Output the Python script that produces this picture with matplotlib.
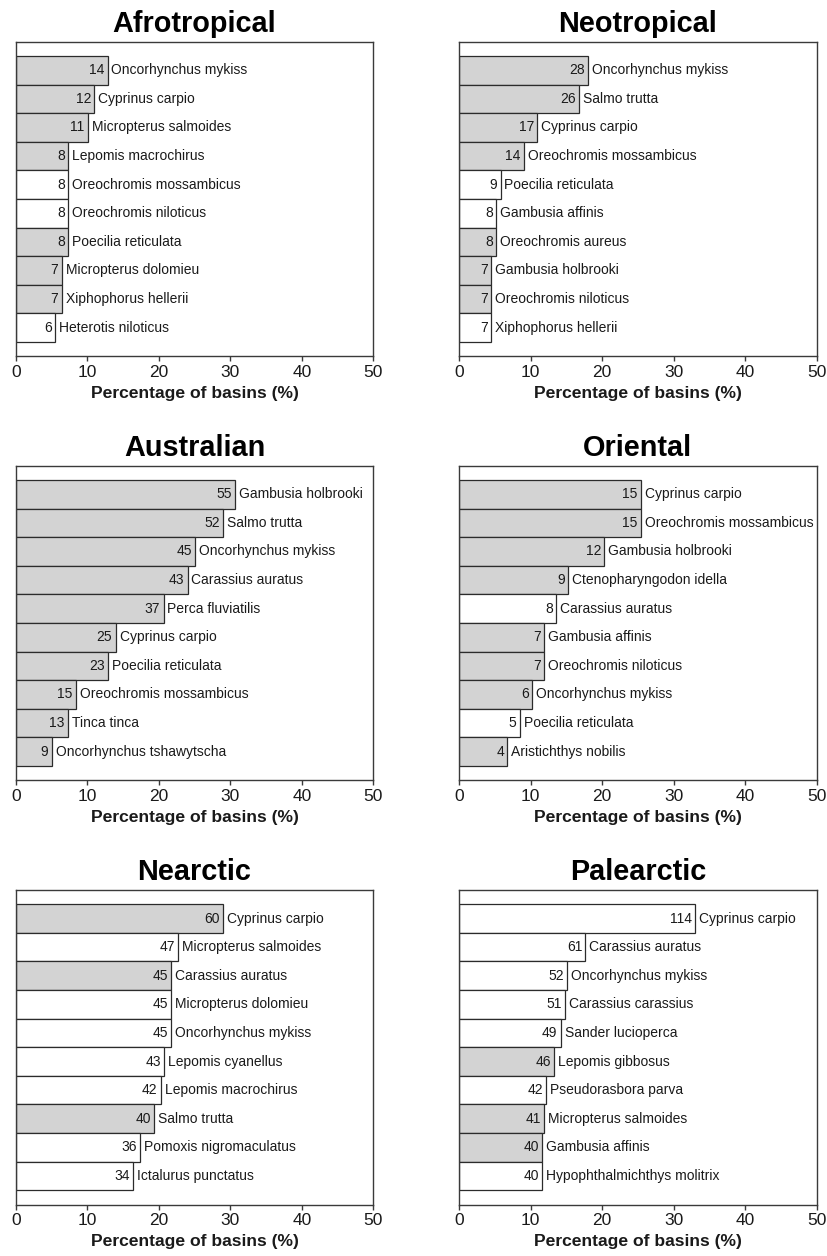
import matplotlib
matplotlib.use("Agg")
import matplotlib.pyplot as plt

plt.rcParams["font.family"] = ["Liberation Sans", "DejaVu Sans"]

# Total number of river basins sampled in each realm
realms = ["Afrotropical", "Neotropical", "Australian", "Oriental", "Nearctic", "Palearctic"]
basin_totals = [109, 155, 179, 59, 207, 345]

# Ten most widespread non-native species per realm, number of basins invaded,
# and whether the species originates from outside the realm (grey bar)
afro_species = ["Oncorhynchus mykiss", "Cyprinus carpio", "Micropterus salmoides",
                "Lepomis macrochirus", "Oreochromis mossambicus", "Oreochromis niloticus",
                "Poecilia reticulata", "Micropterus dolomieu", "Xiphophorus hellerii",
                "Heterotis niloticus"]
afro_basins = [14, 12, 11, 8, 8, 8, 8, 7, 7, 6]
afro_exotic = [1, 1, 1, 1, 0, 0, 1, 1, 1, 0]

neo_species = ["Oncorhynchus mykiss", "Salmo trutta", "Cyprinus carpio",
               "Oreochromis mossambicus", "Poecilia reticulata", "Gambusia affinis",
               "Oreochromis aureus", "Gambusia holbrooki", "Oreochromis niloticus",
               "Xiphophorus hellerii"]
neo_basins = [28, 26, 17, 14, 9, 8, 8, 7, 7, 7]
neo_exotic = [1, 1, 1, 1, 0, 0, 1, 1, 1, 0]

aus_species = ["Gambusia holbrooki", "Salmo trutta", "Oncorhynchus mykiss",
               "Carassius auratus", "Perca fluviatilis", "Cyprinus carpio",
               "Poecilia reticulata", "Oreochromis mossambicus", "Tinca tinca",
               "Oncorhynchus tshawytscha"]
aus_basins = [55, 52, 45, 43, 37, 25, 23, 15, 13, 9]
aus_exotic = [1, 1, 1, 1, 1, 1, 1, 1, 1, 1]

ori_species = ["Cyprinus carpio", "Oreochromis mossambicus", "Gambusia holbrooki",
               "Ctenopharyngodon idella", "Carassius auratus", "Gambusia affinis",
               "Oreochromis niloticus", "Oncorhynchus mykiss", "Poecilia reticulata",
               "Aristichthys nobilis"]
ori_basins = [15, 15, 12, 9, 8, 7, 7, 6, 5, 4]
ori_exotic = [1, 1, 1, 1, 0, 1, 1, 1, 0, 1]

nea_species = ["Cyprinus carpio", "Micropterus salmoides", "Carassius auratus",
               "Micropterus dolomieu", "Oncorhynchus mykiss", "Lepomis cyanellus",
               "Lepomis macrochirus", "Salmo trutta", "Pomoxis nigromaculatus",
               "Ictalurus punctatus"]
nea_basins = [60, 47, 45, 45, 45, 43, 42, 40, 36, 34]
nea_exotic = [1, 0, 1, 0, 0, 0, 0, 1, 0, 0]

pal_species = ["Cyprinus carpio", "Carassius auratus", "Oncorhynchus mykiss",
               "Carassius carassius", "Sander lucioperca", "Lepomis gibbosus",
               "Pseudorasbora parva", "Micropterus salmoides", "Gambusia affinis",
               "Hypophthalmichthys molitrix"]
pal_basins = [114, 61, 52, 51, 49, 46, 42, 41, 40, 40]
pal_exotic = [0, 0, 0, 0, 0, 1, 0, 1, 1, 0]

x_ticks = [0, 10, 20, 30, 40, 50]
x_label = "Percentage of basins (%)"

panels = [
    (afro_species, afro_basins, afro_exotic),
    (neo_species, neo_basins, neo_exotic),
    (aus_species, aus_basins, aus_exotic),
    (ori_species, ori_basins, ori_exotic),
    (nea_species, nea_basins, nea_exotic),
    (pal_species, pal_basins, pal_exotic),
]

W, H = 828, 1256
fig = plt.figure(figsize=(W / 100, H / 100), dpi=100)

# Panel grid in pixels: two columns, three rows
col_left = [15.7, 459.0]
ax_w = 357.6
row_top = [41.7, 465.7, 890.0]
ax_h = 314.5

FRAME = "#3a3a3a"
TEXT = "#1a1a1a"
GREY = "#d3d3d3"

for i, (name, total, (species, basins, exotic)) in enumerate(zip(realms, basin_totals, panels)):
    r, c = divmod(i, 2)
    left = col_left[c] / W
    bottom = 1 - (row_top[r] + ax_h) / H
    ax = fig.add_axes([left, bottom, ax_w / W, ax_h / H])

    pct = [100.0 * b / total for b in basins]
    ypos = list(range(len(species)))
    colors = [GREY if e else "white" for e in exotic]
    ax.barh(ypos, pct, height=1.0, color=colors, edgecolor="#2b2b2b", linewidth=0.9)

    for y, p, b, s in zip(ypos, pct, basins, species):
        ax.text(p - 0.45, y, str(b), ha="right", va="center", fontsize=10, color=TEXT)
        ax.text(p + 0.55, y, s, ha="left", va="center", fontsize=10, color=TEXT)

    ax.set_xlim(0, 50)
    ax.set_ylim(len(species), -1.0)
    ax.set_xticks(x_ticks)
    ax.set_xticklabels([str(t) for t in x_ticks], fontsize=12.5, color=TEXT)
    ax.set_yticks([])
    ax.tick_params(axis="x", direction="out", length=3.8, width=1.0, color=FRAME, pad=2.5)
    for sp in ax.spines.values():
        sp.set_color(FRAME)
        sp.set_linewidth(1.0)
    ax.set_xlabel(x_label, fontsize=12.6, fontweight="bold", color=TEXT, labelpad=4)
    ax.set_title(name, fontsize=20.8, fontweight="bold", color="black", pad=7)

fig.savefig("out.png", dpi=100, facecolor="white")
